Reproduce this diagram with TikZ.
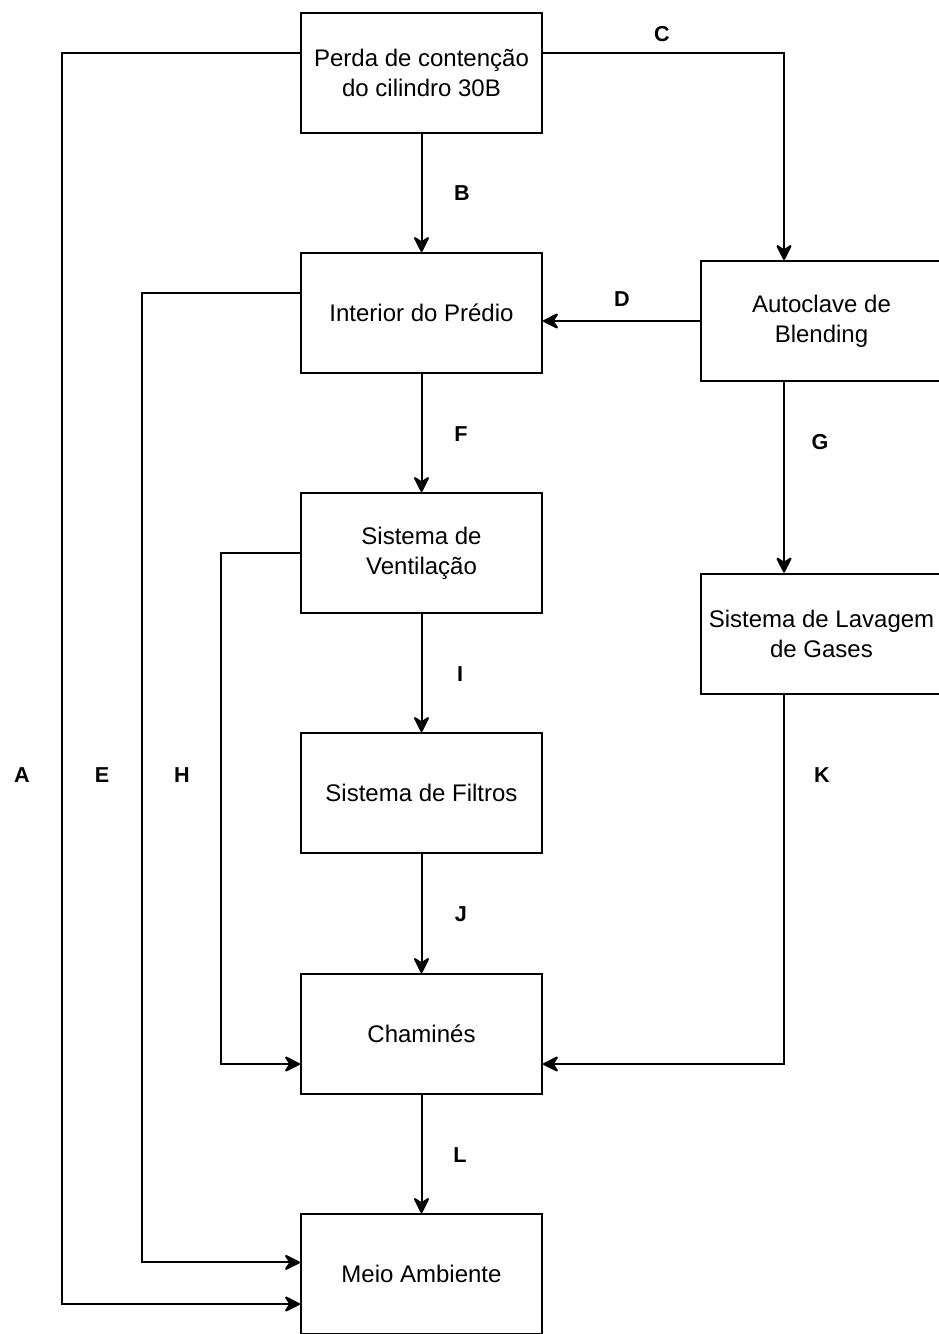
\documentclass[tikz,border=0pt]{standalone}
\usepackage{fontspec}
\setmainfont{Liberation Sans}
\usetikzlibrary{arrows.meta, calc}

\tikzset{
  caixa/.style={draw, line width=1pt, minimum width=120.5pt, minimum height=60pt,
    align=center, inner sep=2pt, font=\fontsize{12}{15}\selectfont},
  fluxo/.style={line width=1pt, -{Stealth[length=9pt, width=9pt, inset=3pt, round]}},
  rot/.style={font=\fontsize{10.8}{12}\selectfont\bfseries, inner sep=0pt}
}

\begin{document}
\begin{tikzpicture}[x=0.5pt, y=-0.5pt]
  \useasboundingbox (0,0) rectangle (938,1334);

  % caixas
  \node[caixa] (perda) at (421.5, 73) {Perda de contenção\\do cilindro 30B};
  \node[caixa] (interior) at (421.5, 313) {Interior do Prédio};
  \node[caixa] (autoclave) at (821.5, 321) {Autoclave de\\Blending};
  \node[caixa] (ventilacao) at (421.5, 553) {Sistema de\\Ventilação};
  \node[caixa] (lavagem) at (821.5, 633.5) {Sistema de Lavagem\\de Gases};
  \node[caixa] (filtros) at (421.5, 793) {Sistema de Filtros};
  \node[caixa] (chamines) at (421.5, 1034) {Chaminés};
  \node[caixa] (meio) at (421.5, 1274) {Meio Ambiente};

  % corredores laterais
  \coordinate (laneA) at (62, 700);
  \coordinate (laneE) at (142, 700);
  \coordinate (laneH) at (221, 800);

  % ligacoes
  \draw[fluxo] ([yshift=10pt]perda.west) -| (laneA) |- ([yshift=-15pt]meio.west);
  \draw[fluxo] (perda) -- (interior);
  \draw[fluxo] ([yshift=10pt]perda.east) -| ([xshift=-18.75pt]autoclave.north);
  \draw[fluxo] (autoclave.west) -- (interior.east |- autoclave.west);
  \draw[fluxo] ([yshift=10pt]interior.west) -| (laneE) |- ([yshift=5.8pt]meio.west);
  \draw[fluxo] (interior) -- (ventilacao);
  \draw[fluxo] ([xshift=-18.75pt]autoclave.south) -- ([xshift=-18.75pt]lavagem.north);
  \draw[fluxo] (ventilacao.west) -| (laneH) |- ([yshift=-15pt]chamines.west);
  \draw[fluxo] (ventilacao) -- (filtros);
  \draw[fluxo] (filtros) -- (chamines);
  \draw[fluxo] ([xshift=-18.75pt]lavagem.south) |- ([yshift=-15pt]chamines.east);
  \draw[fluxo] (chamines) -- (meio);

  % rotulos
  \node[rot] (labA) at (22, 775) {A};
  \node[rot] (labB) at (462, 193) {B};
  \node[rot] (labC) at (662, 34) {C};
  \node[rot] (labD) at (622, 299) {D};
  \node[rot] (labE) at (102, 775) {E};
  \node[rot] (labF) at (461, 434) {F};
  \node[rot] (labG) at (820, 442) {G};
  \node[rot] (labH) at (182, 775) {H};
  \node[rot] (labI) at (460, 674) {I};
  \node[rot] (labJ) at (461, 914) {J};
  \node[rot] (labK) at (822, 775) {K};
  \node[rot] (labL) at (460, 1155) {L};
\end{tikzpicture}
\end{document}
